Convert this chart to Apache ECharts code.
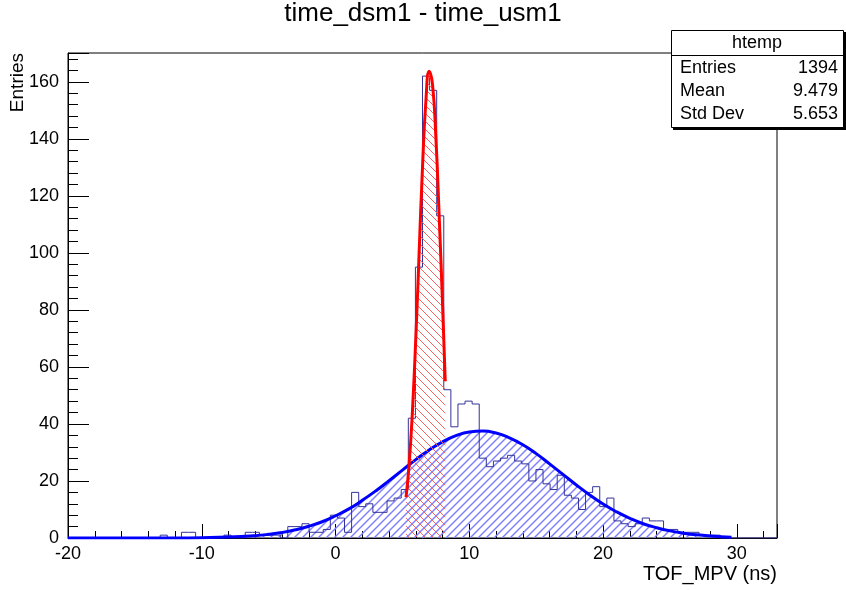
<!DOCTYPE html>
<html>
<head>
<meta charset="utf-8">
<script src="https://cdn.jsdelivr.net/npm/echarts@6/dist/echarts.min.js"></script>
<style>
html, body { margin: 0; padding: 0; background: #fff; }
#chart { width: 846px; height: 590px; }
</style>
</head>
<body>
<div id="chart"></div>
<script>
// histogram range (100 bins)
var xMin = -20, xMax = 33, binWidth = 0.53;
var yMax = 170.1;

// bin contents
var counts = [
	0, 0, 0, 0, 0, 0, 0, 0, 0, 0,
	0, 0, 0, 1, 0, 0, 2, 2, 0, 0,
	0, 0, 1, 0, 0, 2, 2, 1, 1, 1,
	0, 4, 4, 5, 2, 2, 3, 8, 7, 2,
	16, 11, 12, 9, 9, 13, 14, 17, 42, 95,
	162, 157, 113, 52, 39, 47, 48, 47, 28, 25,
	27, 28, 29, 27, 26, 20, 24, 19, 17, 22,
	15, 14, 10, 16, 18, 11, 14, 6, 5, 4,
	5, 7, 6, 6, 3, 3, 2, 2, 2, 1,
	1, 1, 0, 0, 0, 0, 0, 0, 0, 0
];

// wide gaussian fit (blue)
var blueFitX = [-20, -12, -10, -8, -6, -5, -4, -3, -2, -1, 0, 1, 2, 3, 4, 5, 6, 7, 8, 9, 10, 11,
	12, 13, 14, 15, 16, 17, 18, 19, 20, 21, 22, 23, 24, 25, 26, 27, 28, 29.6];
var blueFitY = [0, 0.03, 0.11, 0.32, 0.83, 1.29, 1.94, 2.87, 4.1, 5.7, 7.8, 10.2, 13.2, 16.5, 20.1, 23.8, 27.5, 30.9, 33.7, 35.9, 37.2, 37.5,
	36.8, 35.1, 32.7, 29.6, 26.0, 22.3, 18.6, 15.1, 11.9, 9.2, 6.9, 5.0, 3.6, 2.5, 1.7, 1.1, 0.7, 0.3];

// narrow gaussian fit (red)
var redFitX = [5.27, 5.5, 5.75, 6.0, 6.25, 6.5, 6.75, 7.0, 7.25, 7.5, 7.75, 8.0, 8.2];
var redFitY = [14.3, 25.8, 44.7, 70.2, 100.3, 130, 153, 163.7, 159, 140.4, 112.5, 81.9, 55];

// stats box
var statNames = ['Entries', 'Mean', 'Std Dev'];
var statValues = ['1394', '9.479', '5.653'];

var FONT = 'Liberation Sans, Arial, Helvetica, sans-serif';

// hatch tiles: dir > 0 gives "///", otherwise "\\\"
function hatch(color, dir, width) {
	var c = document.createElement('canvas');
	c.width = 8; c.height = 8;
	var g = c.getContext('2d');
	g.strokeStyle = color;
	g.lineWidth = width;
	g.beginPath();
	if (dir > 0) {
		g.moveTo(0, 8); g.lineTo(8, 0);
		g.moveTo(-2, 2); g.lineTo(2, -2);
		g.moveTo(6, 10); g.lineTo(10, 6);
	} else {
		g.moveTo(0, 0); g.lineTo(8, 8);
		g.moveTo(-2, 6); g.lineTo(2, 10);
		g.moveTo(6, -2); g.lineTo(10, 2);
	}
	g.stroke();
	return c;
}

function pairs(xs, ys) {
	return xs.map(function (x, i) { return [x, ys[i]]; });
}

var histData = counts.map(function (c, i) { return [xMin + i * binWidth, c]; });
histData.push([xMin + counts.length * binWidth, counts[counts.length - 1]]);

var chart = echarts.init(document.getElementById('chart'));

var tickLine = { color: '#000', width: 1 };

var option = {
	animation: false,
	grid: {
		left: 68, right: 69, top: 53, bottom: 52,
		show: true, borderColor: '#000', borderWidth: 1, backgroundColor: 'transparent'
	},
	xAxis: [
		{
			type: 'value', min: xMin, max: xMax, interval: 10, position: 'bottom',
			axisLine: { show: true, onZero: false, lineStyle: tickLine },
			axisTick: { show: true, inside: true, length: 14, lineStyle: tickLine },
			axisLabel: {
				color: '#000', fontSize: 18, fontFamily: FONT, margin: 7,
				formatter: function (v) { return v % 10 === 0 ? String(v) : ''; }
			},
			splitLine: { show: false }
		},
		{
			type: 'value', min: xMin, max: xMax, interval: 2, position: 'bottom',
			axisLine: { show: false, onZero: false },
			axisTick: { show: true, inside: true, length: 7, lineStyle: tickLine },
			axisLabel: { show: false },
			splitLine: { show: false }
		}
	],
	yAxis: [
		{
			type: 'value', min: 0, max: yMax, interval: 20, position: 'left',
			axisLine: { show: true, onZero: false, lineStyle: tickLine },
			axisTick: { show: true, inside: true, length: 21, lineStyle: tickLine },
			axisLabel: {
				color: '#000', fontSize: 18, fontFamily: FONT, margin: 9,
				formatter: function (v) { return v % 20 === 0 ? String(v) : ''; }
			},
			splitLine: { show: false }
		},
		{
			type: 'value', min: 0, max: yMax, interval: 4, position: 'left',
			axisLine: { show: false, onZero: false },
			axisTick: { show: true, inside: true, length: 10, lineStyle: tickLine },
			axisLabel: { show: false },
			splitLine: { show: false }
		}
	],
	series: [
		{
			name: 'fit1 area', type: 'line', smooth: true, data: pairs(blueFitX, blueFitY),
			symbol: 'none', color: '#0000ff', lineStyle: { width: 0 },
			areaStyle: { color: { image: hatch('#8282ff', 1, 1.5), repeat: 'repeat' }, opacity: 1 },
			z: 1
		},
		{
			name: 'htemp', type: 'line', step: 'end', data: histData,
			symbol: 'none', color: '#333399', lineStyle: { color: '#333399', width: 1 }, z: 2
		},
		{
			name: 'fit1', type: 'line', smooth: true, data: pairs(blueFitX, blueFitY),
			symbol: 'none', color: '#0000ff', lineStyle: { color: '#0000ff', width: 3 },
			z: 3
		},
		{
			name: 'fit2', type: 'line', smooth: true, data: pairs(redFitX, redFitY),
			symbol: 'none', color: '#ff0000', lineStyle: { color: '#ff0000', width: 3 },
			areaStyle: { color: { image: hatch('#ff6060', -1, 1), repeat: 'repeat' }, opacity: 1 },
			z: 4
		}
	],
	graphic: [
		{ type: 'text', x: 423, y: 14, z: 10,
			style: { text: 'time_dsm1 - time_usm1', font: '26px ' + FONT, fill: '#000', align: 'center', verticalAlign: 'middle' } },
		{ type: 'text', x: 18, y: 53, rotation: Math.PI / 2, z: 10,
			style: { text: 'Entries', font: '19px ' + FONT, fill: '#000', align: 'right', verticalAlign: 'middle' } },
		{ type: 'text', x: 777, y: 574, z: 10,
			style: { text: 'TOF_MPV (ns)', font: '20px ' + FONT, fill: '#000', align: 'right', verticalAlign: 'middle' } },
		{ type: 'rect', z: 10, shape: { x: 673, y: 32, width: 173, height: 98 }, style: { fill: '#000' } },
		{ type: 'rect', z: 11, shape: { x: 671.5, y: 30.5, width: 172, height: 97 }, style: { fill: '#fff', stroke: '#000', lineWidth: 1 } },
		{ type: 'line', z: 12, shape: { x1: 671.5, y1: 55.5, x2: 843.5, y2: 55.5 }, style: { stroke: '#000', lineWidth: 1 } },
		{ type: 'text', x: 757, y: 43, z: 12,
			style: { text: 'htemp', font: '18px ' + FONT, fill: '#000', align: 'center', verticalAlign: 'middle' } }
	]
};

statNames.forEach(function (name, i) {
	var y = 68 + i * 23;
	option.graphic.push({ type: 'text', x: 680, y: y, z: 12,
		style: { text: name, font: '18px ' + FONT, fill: '#000', align: 'left', verticalAlign: 'middle' } });
	option.graphic.push({ type: 'text', x: 838, y: y, z: 12,
		style: { text: statValues[i], font: '18px ' + FONT, fill: '#000', align: 'right', verticalAlign: 'middle' } });
});

chart.setOption(option);
</script>
</body>
</html>
